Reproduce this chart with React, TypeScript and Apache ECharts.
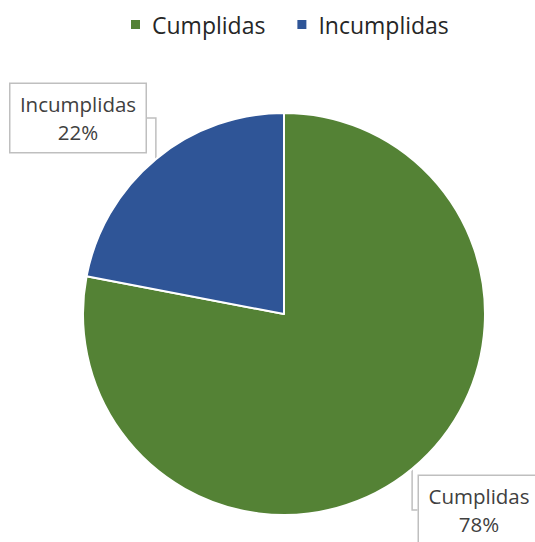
import React, { useEffect, useRef } from "react";
import * as echarts from "echarts";

const categories = ["Cumplidas", "Incumplidas"];
const values = [78, 22];
const colors = ["#548235", "#2f5597"];

export default function App() {
  const ref = useRef<HTMLDivElement>(null);
  useEffect(() => {
    document.body.style.margin = "0";
    const chart = echarts.init(ref.current!, null, { renderer: "svg" });
    const font = "Open Sans";
    chart.setOption({
      animation: false,
      backgroundColor: "#ffffff",
      legend: {
        top: 8,
        left: 124,
        icon: "rect",
        itemWidth: 11,
        itemHeight: 11,
        itemGap: 30,
        textStyle: { fontFamily: font, fontSize: 23, color: "#262626", padding: [0, 0, 0, 6] },
        data: categories,
      },
      series: [
        {
          type: "pie",
          center: [284, 314],
          radius: 201,
          startAngle: 90,
          clockwise: true,
          itemStyle: { borderColor: "#ffffff", borderWidth: 2 },
          label: {
            show: true,
            formatter: "{b}\n{d}%",
            fontFamily: font,
            fontSize: 20.5,
            lineHeight: 28,
            color: "#404040",
            backgroundColor: "#ffffff",
            borderColor: "#bfbfbf",
            borderWidth: 1.5,
            padding: [6, 8],
            align: "center",
            overflow: "none",
          },
          labelLine: {
            show: true,
            lineStyle: { color: "#bfbfbf", width: 1.5 },
            length: 20,
            length2: 20,
          },
          labelLayout: (p: any) => {
            if (p.dataIndex === 1) {
              return { x: 78, y: 118, align: "center", verticalAlign: "middle" };
            }
            return { x: 479, y: 510, align: "center", verticalAlign: "middle" };
          },
          data: categories.map((c, i) => ({
            name: c,
            value: values[i],
            itemStyle: { color: colors[i] },
            label: { width: i === 1 ? 119 : 104, overflow: "none" },
          })),
        },
      ],
    });
    return () => chart.dispose();
  }, []);
  return <div ref={ref} style={{ width: 535, height: 542 }} />;
}
